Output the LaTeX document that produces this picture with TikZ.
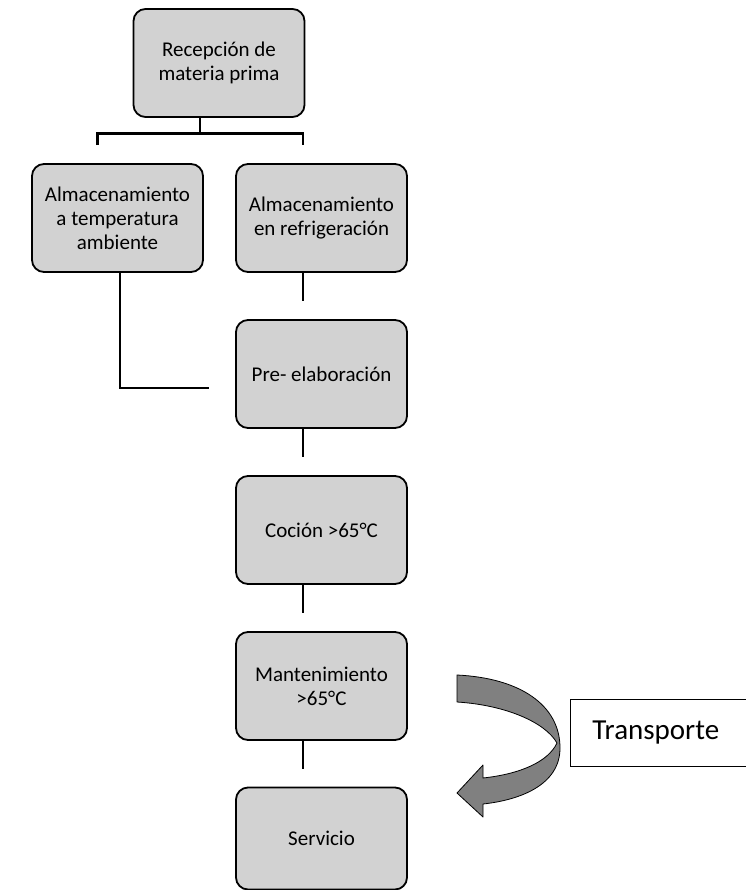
\documentclass[tikz,border=0pt]{standalone}
\usepackage{fontspec}
\setmainfont{Carlito}
\usepackage{tikz}
\usetikzlibrary{arrows}

\begin{document}
\begin{tikzpicture}[-,line width=2.8pt,node distance=156pt]
  \tikzstyle{etapa}=[rectangle,draw,rounded corners=12pt,line width=1.8pt,fill=gray!35,
                     minimum width=171pt,minimum height=108pt,inner sep=0pt,align=center,
                     font=\fontsize{21}{24}\selectfont]
  \useasboundingbox (0pt,0pt) rectangle (745pt,-890pt);

  \node[etapa] (RM) at (219pt,-63pt)    {Recepción de \\ materia prima};
  \node[etapa] (AR) at (321.5pt,-218pt) {Almacenamiento \\ en refrigeración};
  \node[etapa] (AT) [node distance=204pt,left of=AR] {Almacenamiento \\ a temperatura \\ ambiente};
  \node[etapa] (PE) [below of=AR] {Pre- elaboración};
  \node[etapa] (CO) [below of=PE] {Coción >65°C};
  \node[etapa] (MA) [below of=CO] {Mantenimiento \\ >65°C};
  \node[etapa,minimum height=102pt] (SE) [node distance=152.5pt,below of=MA] {Servicio};

  \node[draw,line width=0.8pt,fill=white,anchor=west,text width=168pt,align=left,
        inner xsep=22pt,minimum height=67pt,font=\fontsize{29}{34}\selectfont]
        (TR) at (570pt,-732.5pt) {Transporte};

  % ramas de la recepcion
  \coordinate (F)  at ([xshift=-19pt,yshift=-16pt]RM.south);
  \coordinate (F1) at ([xshift=-20pt,yshift=18pt]AT.north);
  \coordinate (F2) at ([xshift=-18.5pt,yshift=18pt]AR.north);
  \draw (RM.south -| F) -- (F);
  \draw (F1) |- (F) -| (F2);

  \coordinate (P) at ([xshift=-26pt,yshift=-14pt]PE.west);
  \draw ([xshift=2.5pt]AT.south) |- (P);

  \draw ([xshift=-18.5pt]AR.south) -- ([xshift=-18.5pt,yshift=18pt]PE.north);
  \draw ([xshift=-18.5pt]PE.south) -- ([xshift=-18.5pt,yshift=18pt]CO.north);
  \draw ([xshift=-18.5pt]CO.south) -- ([xshift=-18.5pt,yshift=18pt]MA.north);
  \draw ([xshift=-18.5pt]MA.south) -- ([xshift=-18.5pt,yshift=18pt]SE.north);

  % flecha curva
  \draw[fill=gray,line width=0.8pt,line join=round]
    (457pt,-675pt) .. controls (520pt,-678pt) and (560pt,-705pt) .. (560pt,-748pt)
    .. controls (560pt,-785pt) and (520pt,-800pt) .. (483pt,-804pt)
    -- (483pt,-817pt) -- (457pt,-793pt) -- (483pt,-765pt) -- (483pt,-778pt)
    .. controls (520pt,-774pt) and (548pt,-762pt) .. (557pt,-743pt)
    .. controls (545pt,-722pt) and (505pt,-705pt) .. (457pt,-702pt) -- cycle;

\end{tikzpicture}
\end{document}
